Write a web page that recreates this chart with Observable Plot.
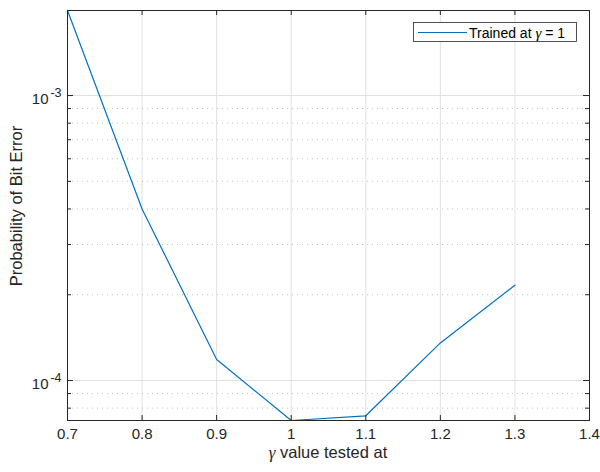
<!DOCTYPE html>
<html><head>
<meta charset="utf-8">
<script src="https://cdn.jsdelivr.net/npm/d3@7"></script>
<script src="https://cdn.jsdelivr.net/npm/@observablehq/plot@0.6"></script>
<style>
body{margin:0;background:#fff;}
#wrap{position:relative;width:600px;height:472px;}
</style></head><body><div id="wrap"></div>
<script>
// ---- data ----
const gammaTested = [0.7, 0.8, 0.9, 1.0, 1.1, 1.2, 1.3];
const bitErrorProb = [1.988e-3, 4.0e-4, 1.185e-4, 7.24e-5, 7.52e-5, 1.355e-4, 2.16e-4];
const xTicks = [0.7, 0.8, 0.9, 1.0, 1.1, 1.2, 1.3, 1.4];
const xTickLabels = ["0.7", "0.8", "0.9", "1", "1.1", "1.2", "1.3", "1.4"];
const yMajorTicks = [1e-4, 1e-3];
const yMajorExponents = ["-4", "-3"];
const yMinorTicks = [8e-5, 9e-5, 2e-4, 3e-4, 4e-4, 5e-4, 6e-4, 7e-4, 8e-4, 9e-4];
const xLabelSymbol = "γ";
const xLabelText = " value tested at";
const yLabelText = "Probability of Bit Error";
const legendPrefix = "Trained at ";
const legendSymbol = "γ";
const legendSuffix = " = 1";

const data = gammaTested.map((g, i) => ({g, p: bitErrorProb[i]}));
const sans = "'Liberation Sans', Arial, Helvetica, sans-serif";
const serif = "'Liberation Serif', 'Times New Roman', serif";
const axisColor = "#262626";
const W = 600, H = 472, mL = 67, mR = 11, mT = 10, mB = 52;
const fw = W - mL - mR, fh = H - mT - mB;

const plot = Plot.plot({
  width: W, height: H,
  marginLeft: mL, marginRight: mR, marginTop: mT, marginBottom: mB,
  style: {fontFamily: sans, fontSize: "15px", color: axisColor, background: "#fff"},
  x: {domain: [0.7, 1.4], axis: null},
  y: {type: "log", domain: [d3.min(bitErrorProb), d3.max(bitErrorProb)], axis: null},
  marks: [
    Plot.ruleX(xTicks, {x: d => d, stroke: "#e0e0e0", strokeWidth: 1}),
    Plot.ruleY(yMinorTicks, {y: d => d, stroke: "#c4c4c4", strokeWidth: 1, strokeDasharray: "1,4"}),
    Plot.ruleY(yMajorTicks, {y: d => d, stroke: "#e0e0e0", strokeWidth: 1}),
    Plot.line(data, {x: "g", y: "p", stroke: "#0072BD", strokeWidth: 1.2}),
    Plot.frame({stroke: axisColor, strokeWidth: 1}),
    // inside ticks
    Plot.tickY(yMajorTicks, {y: d => d, insetRight: fw - 6, stroke: axisColor}),
    Plot.tickY(yMajorTicks, {y: d => d, insetLeft: fw - 6, stroke: axisColor}),
    Plot.tickY(yMinorTicks, {y: d => d, insetRight: fw - 4, stroke: axisColor}),
    Plot.tickY(yMinorTicks, {y: d => d, insetLeft: fw - 4, stroke: axisColor}),
    Plot.tickX(xTicks, {x: d => d, insetBottom: fh - 5, stroke: axisColor}),
    Plot.tickX(xTicks, {x: d => d, insetTop: fh - 5, stroke: axisColor}),
    // tick labels
    Plot.text(xTicks, {x: d => d, text: (d, i) => xTickLabels[i], frameAnchor: "bottom", dy: 18, textAnchor: "middle", fontSize: 15, fill: axisColor}),
    Plot.text(yMajorTicks, {y: d => d, text: () => "10", frameAnchor: "left", dx: -19, dy: 3.5, textAnchor: "end", fontSize: 15, fill: axisColor}),
    Plot.text(yMajorTicks, {y: d => d, text: (d, i) => yMajorExponents[i], frameAnchor: "left", dx: -6, dy: -3, textAnchor: "end", fontSize: 12.5, fill: axisColor})
  ]
});
document.getElementById("wrap").appendChild(plot);

const svg = d3.select(plot);
// x label
const xl = svg.append("text")
  .attr("x", mL + fw / 2).attr("y", 458)
  .attr("text-anchor", "middle")
  .attr("fill", axisColor)
  .style("font-family", sans).style("font-size", "16.5px");
xl.append("tspan").text(xLabelSymbol).style("font-family", serif).style("font-style", "italic").style("font-size", "17px");
xl.append("tspan").text(xLabelText);
// y label
svg.append("text")
  .attr("transform", "translate(22,206) rotate(-90)")
  .attr("text-anchor", "middle")
  .attr("fill", axisColor)
  .style("font-family", sans).style("font-size", "16.5px")
  .text(yLabelText);
// legend
const lg = svg.append("g");
lg.append("rect").attr("x", 413.5).attr("y", 22.5).attr("width", 163).attr("height", 19)
  .attr("fill", "#fff").attr("stroke", axisColor).attr("stroke-width", 0.8);
lg.append("line").attr("x1", 418).attr("x2", 467).attr("y1", 32.5).attr("y2", 32.5)
  .attr("stroke", "#0072BD").attr("stroke-width", 1.2);
const lt = lg.append("text").attr("x", 469).attr("y", 37.5).attr("fill", "#000")
  .attr("text-anchor", "start")
  .style("font-family", sans).style("font-size", "14px");
lt.append("tspan").text(legendPrefix);
lt.append("tspan").text(legendSymbol).style("font-family", serif).style("font-style", "italic").style("font-size", "15px");
lt.append("tspan").text(legendSuffix);
</script>
</body></html>
